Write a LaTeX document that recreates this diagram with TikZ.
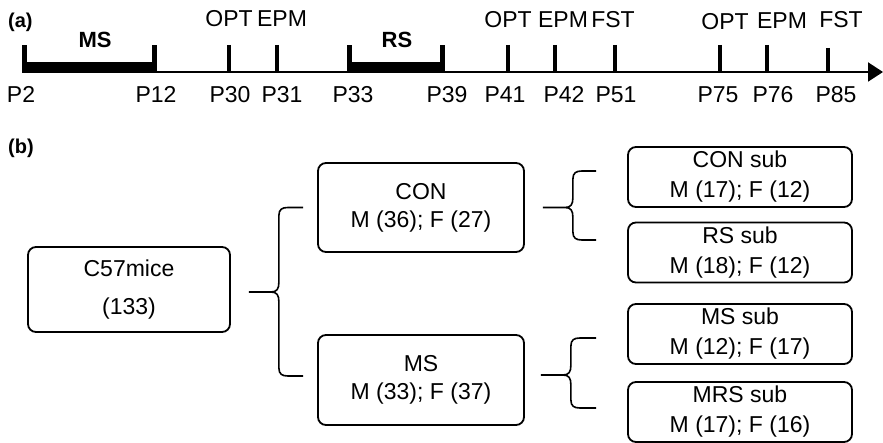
\documentclass[tikz,border=0pt]{standalone}
\usepackage{fontspec}
\setmainfont{Liberation Sans}
\usetikzlibrary{arrows.meta,calc}
\newcommand\mybrace[3]{%
  \draw[bracel] let \p1=(#1), \p2=(#2), \p3=(#3), \n1={\x1+30pt} in
    (\p1) -- (\n1-8pt,\y1) .. controls (\n1-2pt,\y1) and (\n1,\y1+3pt) .. (\n1,\y1+10pt)
    -- (\n1,\y2-8pt) .. controls (\n1,\y2-2pt) and (\n1+3pt,\y2) .. (\n1+9pt,\y2) -- (\p2)
    (\n1-8pt,\y1) .. controls (\n1-2pt,\y1) and (\n1,\y1-3pt) .. (\n1,\y1-10pt)
    -- (\n1,\y3+8pt) .. controls (\n1,\y3+2pt) and (\n1+3pt,\y3) .. (\n1+9pt,\y3) -- (\p3);}
\begin{document}
\begin{tikzpicture}[x=1pt,y=-1pt,
  lbl/.style={font=\fontsize{23}{27}\selectfont, inner sep=0pt, anchor=base},
  hdr/.style={font=\fontsize{20}{24}\selectfont\bfseries, inner sep=0pt, anchor=base west},
  barlbl/.style={font=\fontsize{22}{26}\selectfont\bfseries, inner sep=0pt, anchor=base},
  tickmark/.style={line width=4.5pt},
  box/.style={draw, line width=1.8pt, rounded corners=8pt, align=center,
    font=\fontsize{23}{28}\selectfont, inner sep=2pt},
  subbox/.style={box, minimum width=224pt, minimum height=60pt, font=\fontsize{23}{30}\selectfont},
  bracel/.style={line width=1.6pt},
]
\useasboundingbox (0,0) rectangle (883,443);

% ---------- (a) timeline ----------
\node[hdr] (ha) at (8,28) {(a)};
\coordinate (axs) at (22,72);
\coordinate (axe) at (883,72);
\draw[line width=2pt,-{Triangle[length=15pt,width=19pt]}] (axs) -- (axe);

% MS bar
\fill (22,62) rectangle (157,73);
\fill (22,45) rectangle (27,73);
\fill (152,45) rectangle (157,73);
\node[barlbl] (msl) at (95,48) {MS};
% RS bar
\fill (347,62) rectangle (445,73);
\fill (347,45) rectangle (352,73);
\fill (440,45) rectangle (445,73);
\node[barlbl] (rsl) at (397,48) {RS};

% ticks
\foreach \x in {229,277,508,555,615,720,767}
  \draw[tickmark] (\x,45) -- (\x,72);
\draw[tickmark] (828,48) -- (828,72);

% top labels
\node[lbl] (t1) at (229,27) {OPT};
\node[lbl] (t2) at (282,27) {EPM};
\node[lbl] (t3) at (508,28) {OPT};
\node[lbl] (t4) at (563,28) {EPM};
\node[lbl] (t5) at (613,28) {FST};
\node[lbl] (t6) at (725,30) {OPT};
\node[lbl] (t7) at (782,29) {EPM};
\node[lbl] (t8) at (841,28) {FST};

% bottom labels
\node[lbl] (p2)  at (21,103)  {P2};
\node[lbl] (p12) at (156,103) {P12};
\node[lbl] (p30) at (230,103) {P30};
\node[lbl] (p31) at (282,103) {P31};
\node[lbl] (p33) at (353,103) {P33};
\node[lbl] (p39) at (447,103) {P39};
\node[lbl] (p41) at (505,103) {P41};
\node[lbl] (p42) at (564,103) {P42};
\node[lbl] (p51) at (616,103) {P51};
\node[lbl] (p75) at (718,103) {P75};
\node[lbl] (p76) at (773,103) {P76};
\node[lbl] (p85) at (836,103) {P85};

% ---------- (b) groups ----------
\node[hdr] (hb) at (8,154) {(b)};

\node[box, minimum width=202pt, minimum height=85pt] (c57) at (129,289.5) {C57mice\\[10pt](133)};
\node[box, minimum width=206pt, minimum height=89pt] (con) at (421,207.5) {CON\\M (36); F (27)};
\node[box, minimum width=206pt, minimum height=90pt] (ms) at (421,380) {MS\\M (33); F (37)};

\node[subbox] (consub) at (740,177)   {CON sub\\M (17); F (12)};
\node[subbox] (rssub)  at (740,252.5) {RS sub\\M (18); F (12)};
\node[subbox] (mssub)  at (740,334)   {MS sub\\M (12); F (17)};
\node[subbox] (mrssub) at (740,412)   {MRS sub\\M (17); F (16)};

% brace anchors
\coordinate (b1t) at ([xshift=18pt,yshift=-2.5pt]c57.east);
\coordinate (b1u) at ([xshift=-14pt]con.west);
\coordinate (b1d) at ([xshift=-14pt,yshift=4pt]ms.west);
\coordinate (b2t) at ([xshift=18pt]con.east);
\coordinate (b2u) at ([xshift=-31pt,yshift=6pt]consub.west);
\coordinate (b2d) at ([xshift=-31pt,yshift=12.5pt]rssub.west);
\coordinate (b3t) at ([xshift=16pt,yshift=5pt]ms.east);
\coordinate (b3u) at ([xshift=-31pt,yshift=-4pt]mssub.west);
\coordinate (b3d) at ([xshift=-31pt,yshift=4pt]mrssub.west);

\mybrace{b1t}{b1u}{b1d}
\mybrace{b2t}{b2u}{b2d}
\mybrace{b3t}{b3u}{b3d}
\end{tikzpicture}
\end{document}
